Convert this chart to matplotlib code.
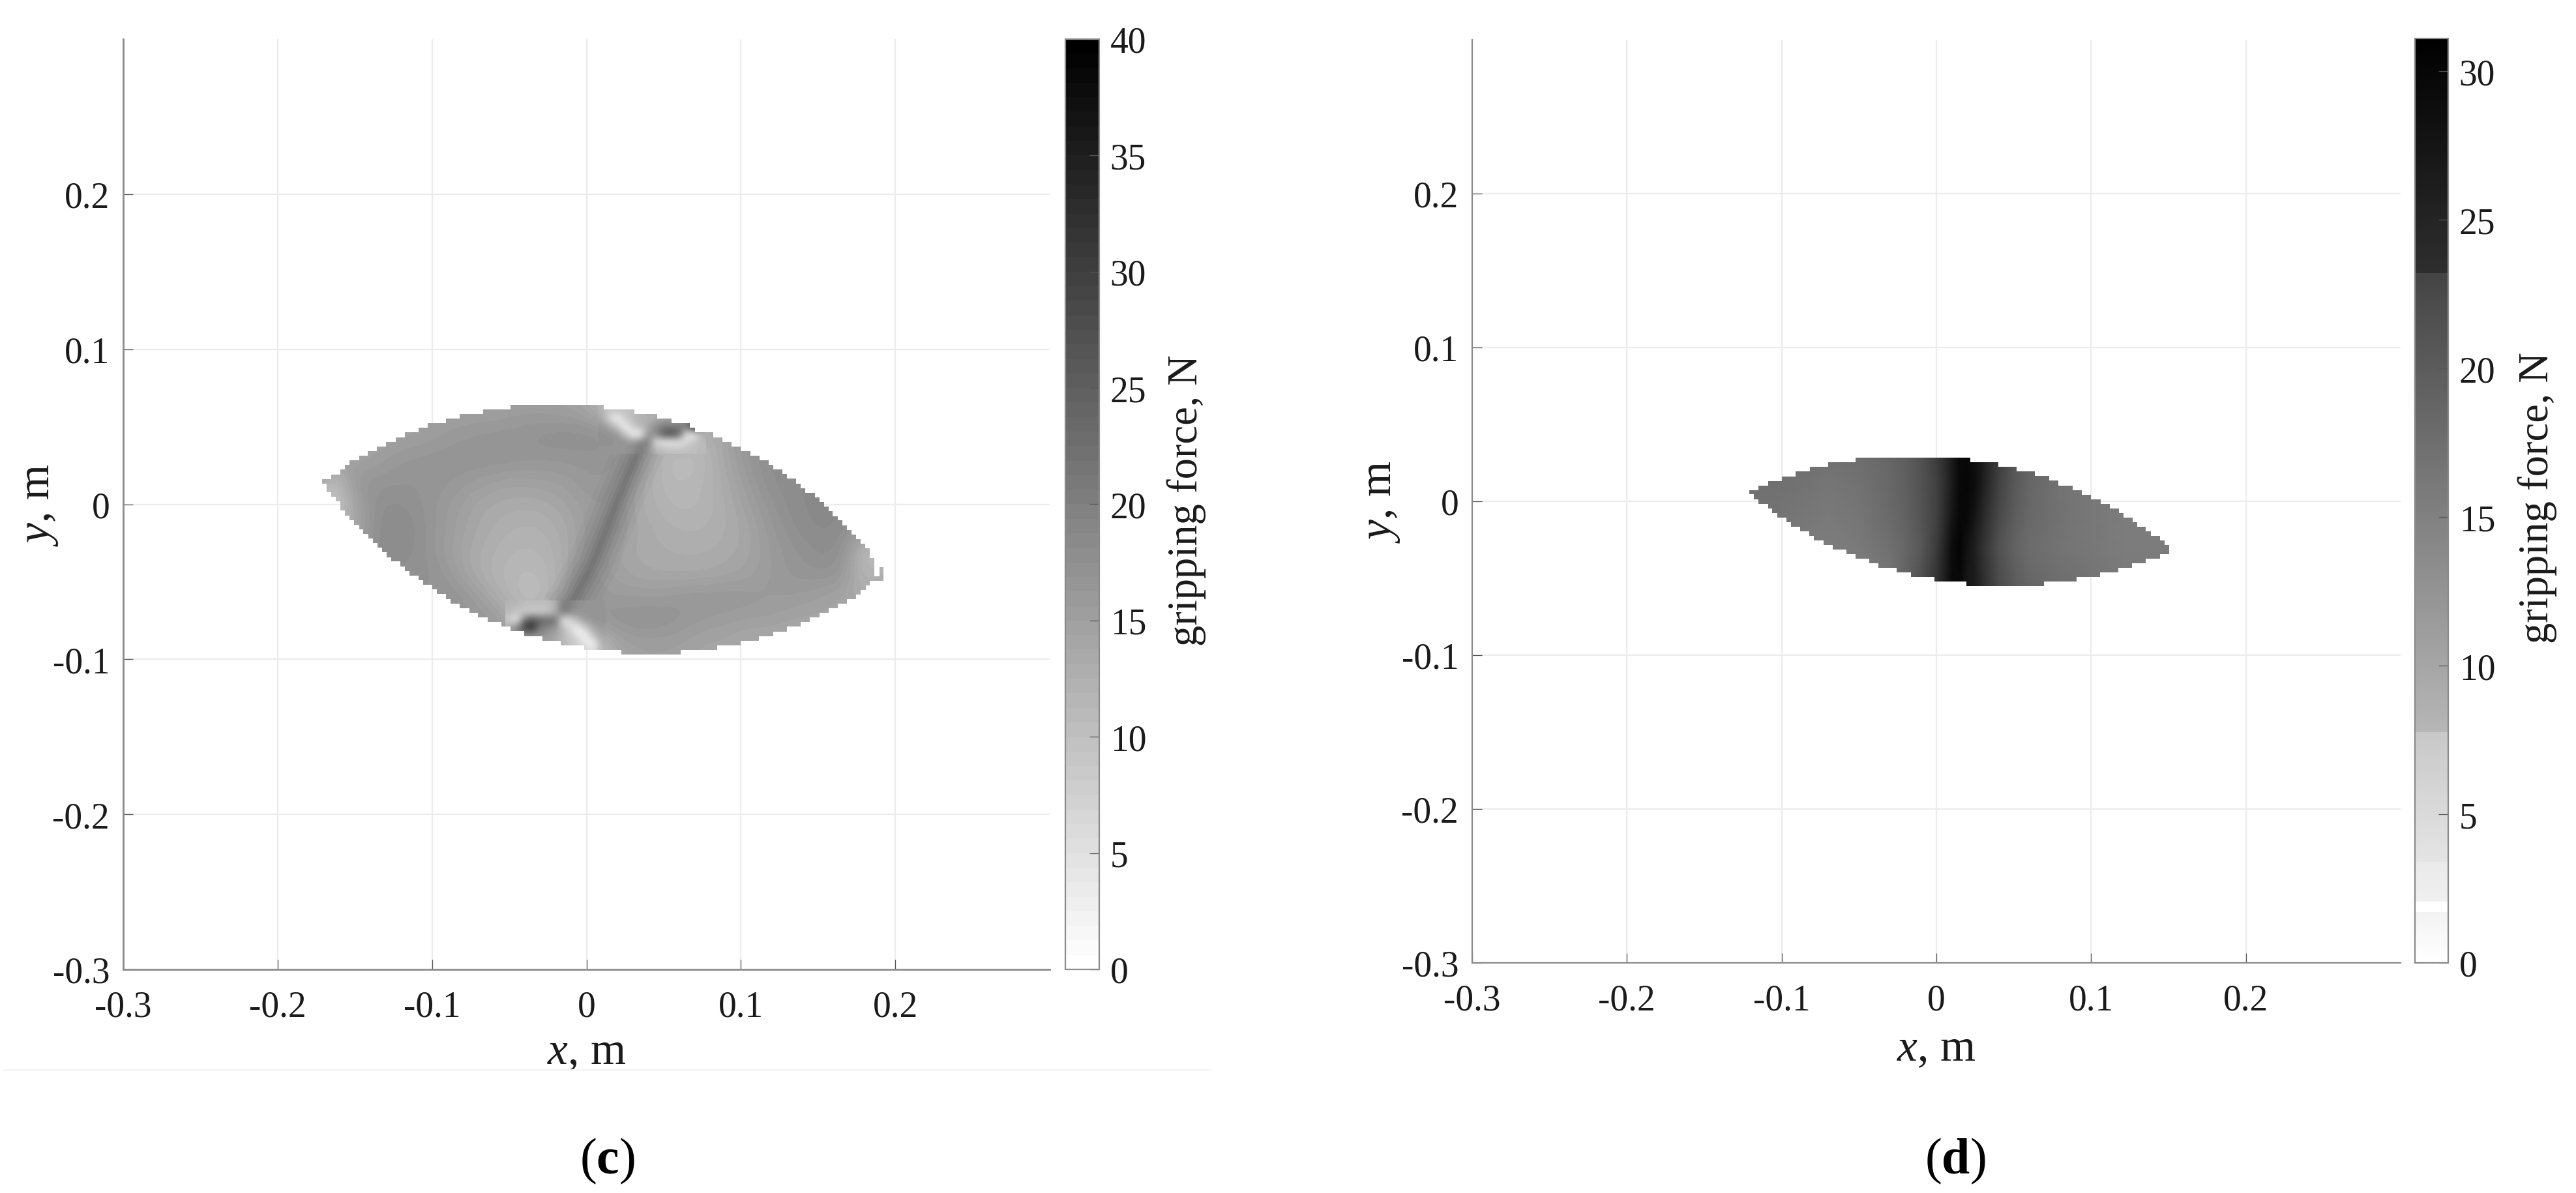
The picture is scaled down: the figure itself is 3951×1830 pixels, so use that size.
import numpy as np
import matplotlib
matplotlib.use("Agg")
import matplotlib.pyplot as plt
from matplotlib.colors import LinearSegmentedColormap, Normalize
from matplotlib.cm import ScalarMappable
from matplotlib.lines import Line2D
from matplotlib.path import Path

plt.rcParams['font.family'] = ['Liberation Serif']
plt.rcParams['mathtext.fontset'] = 'custom'
plt.rcParams['mathtext.rm'] = 'Liberation Serif'
plt.rcParams['mathtext.it'] = 'Liberation Serif:italic'
plt.rcParams['mathtext.bf'] = 'Liberation Serif:bold'

W, H = 3951, 1831

# ---------- data ----------
axis_ticks = [-0.3, -0.2, -0.1, 0, 0.1, 0.2]
axis_labels = ['-0.3', '-0.2', '-0.1', '0', '0.1', '0.2']
grid_ticks = [-0.2, -0.1, 0, 0.1, 0.2]

c_vmax = 40.0
c_bar_ticks = [0, 5, 10, 15, 20, 25, 30, 35, 40]
d_vmax = 31.1
d_bar_ticks = [0, 5, 10, 15, 20, 25, 30]

# outline of reachable area, panel (c): run edges and level of each run
c_top_edges = [-.1711, -.1652, -.1592, -.1564, -.1533, -.1473, -.1417, -.1356, -.1297, -.1237, -.1178, -.1087,
               -.1028, -.0912, -.0820, -.0670, -.0491, .0112, .0309, .0460, .0549, .0671, .0704, .0821, .0881,
               .0940, .0998, .1060, .1121, .1180, .1208, .1269, .1300, .1358, .1389, .1417, .1478, .1509, .1537,
               .1568, .1596, .1626, .1657, .1688, .1716, .1746, .1777, .1805, .1836, .1865, .1897, .1925]
c_top_y = [.0161, .0192, .0223, .0254, .0283, .0313, .0342, .0372, .0403, .0433, .0463, .0492, .0522, .0553,
           .0583, .0613, .0642, .0613, .0583, .0553, .0522, .0492, .0463, .0433, .0403, .0372, .0342, .0313,
           .0283, .0254, .0224, .0194, .0164, .0133, .0104, .0074, .0045, .0014, -.0015, -.0046, -.0076, -.0105,
           -.0136, -.0165, -.0195, -.0226, -.0255, -.0285, -.0345, -.0464, -.0404]
c_bot_edges = [-.1711, -.1683, -.1652, -.1624, -.1592, -.1564, -.1533, -.1504, -.1473, -.1445, -.1414, -.1384,
               -.1353, -.1325, -.1295, -.1265, -.1206, -.1178, -.1147, -.1087, -.1056, -.0999, -.0968, -.0912,
               -.0879, -.0820, -.0760, -.0701, -.0641, -.0551, -.0491, -.0403, -.0283, -.0165, -.0014, .0224,
               .0610, .0848, .0998, .1118, .1208, .1297, .1389, .1448, .1509, .1568, .1627, .1688, .1746, .1777,
               .1808, .1836, .1925]
c_bot_y = [.0132, .0077, .0048, .0017, -.0042, -.0072, -.0102, -.0132, -.0161, -.0191, -.0222, -.0251, -.0281,
           -.0310, -.0341, -.0370, -.0400, -.0431, -.0460, -.0489, -.0520, -.0550, -.0579, -.0610, -.0641, -.0670,
           -.0700, -.0731, -.0760, -.0790, -.0819, -.0850, -.0881, -.0910, -.0940, -.0969, -.0940, -.0910, -.0881,
           -.0850, -.0820, -.0790, -.0760, -.0731, -.0700, -.0670, -.0641, -.0610, -.0581, -.0551, -.0522, -.0495]

# gripping force (N), panel (c), read on a coarse grid
c_x = [-.18 + 0.015 * i for i in range(26)]
c_y = [.075, .06, .045, .03, .015, 0, -.015, -.03, -.045, -.06, -.075, -.09, -.105]
c_force = [
    [16.5, 16.5, 15.7, 14.9, 14.9, 14.9, 14.9, 14.9, 14.9, 15.2, 15.2, 14.9, 14.1, 11.0, 9.4, 10.2, 12.5, 13.3, 14.1, 14.9, 15.7, 16.5, 17.3, 17.3, 17.3, 17.3],
    [16.5, 16.5, 15.7, 14.9, 14.9, 14.9, 14.9, 14.9, 14.9, 15.2, 15.2, 14.9, 14.1, 11.0, 9.4, 10.2, 12.5, 13.3, 14.1, 14.9, 15.7, 16.5, 17.3, 17.3, 17.3, 17.3],
    [16.5, 16.5, 14.1, 14.1, 14.6, 14.9, 15.7, 16.2, 16.5, 16.8, 17.3, 17.7, 17.7, 17.3, 10.2, 12.5, 14.9, 12.5, 14.1, 16.5, 17.3, 18.0, 18.0, 18.0, 18.0, 18.0],
    [16.5, 16.5, 14.1, 15.2, 16.2, 16.5, 16.8, 17.1, 17.1, 16.8, 16.5, 16.5, 16.5, 16.8, 16.5, 12.1, 10.2, 11.0, 14.1, 16.5, 17.7, 18.0, 18.0, 18.0, 18.0, 18.0],
    [18.0, 9.4, 16.5, 16.5, 16.8, 16.8, 16.5, 15.7, 14.9, 14.6, 14.9, 15.2, 16.2, 16.2, 14.1, 12.1, 11.0, 11.8, 13.3, 15.7, 17.7, 18.0, 18.4, 18.4, 18.4, 18.4],
    [13.3, 7.0, 14.6, 17.6, 17.6, 16.8, 15.7, 14.4, 13.6, 13.3, 13.3, 14.1, 15.4, 15.7, 13.6, 12.4, 11.5, 11.8, 13.0, 14.9, 16.8, 18.0, 18.4, 18.4, 18.4, 18.4],
    [11.8, 11.8, 13.0, 18.0, 18.4, 17.1, 15.5, 14.1, 13.0, 12.4, 12.4, 13.3, 15.2, 16.2, 14.0, 13.0, 12.4, 12.4, 13.0, 14.1, 16.2, 17.6, 18.4, 18.0, 16.5, 16.5],
    [16.5, 16.5, 16.5, 17.7, 18.0, 17.1, 15.2, 13.6, 12.5, 11.8, 11.8, 13.0, 15.7, 14.9, 13.6, 13.3, 13.0, 13.0, 13.3, 14.1, 15.7, 16.8, 17.7, 17.7, 11.0, 8.6],
    [16.5, 16.5, 16.5, 17.3, 17.3, 17.3, 16.2, 13.6, 12.1, 11.1, 11.1, 13.0, 16.5, 14.9, 14.1, 13.6, 13.6, 13.6, 14.1, 14.6, 15.7, 16.5, 16.8, 16.8, 11.0, 14.1],
    [16.5, 16.5, 16.5, 16.5, 16.5, 16.5, 17.3, 16.2, 13.3, 11.0, 10.2, 14.1, 16.5, 15.7, 15.7, 15.7, 16.2, 16.5, 16.5, 16.2, 15.7, 15.7, 14.9, 14.1, 13.3, 13.3],
    [16.5, 16.5, 16.5, 16.5, 16.5, 16.5, 16.5, 16.5, 16.5, 13.3, 12.5, 16.5, 16.5, 16.8, 17.3, 17.3, 16.5, 15.7, 15.2, 14.9, 14.9, 14.1, 14.1, 14.1, 14.1, 14.1],
    [14.9, 14.9, 14.9, 14.9, 14.9, 14.9, 14.9, 14.9, 14.9, 14.9, 14.9, 11.0, 6.3, 13.3, 14.9, 14.9, 14.9, 14.1, 14.1, 13.3, 13.3, 13.3, 13.3, 13.3, 13.3, 13.3],
    [14.9, 14.9, 14.9, 14.9, 14.9, 14.9, 14.9, 14.9, 14.9, 14.9, 14.9, 11.0, 6.3, 13.3, 14.9, 14.9, 14.9, 14.1, 14.1, 13.3, 13.3, 13.3, 13.3, 13.3, 13.3, 13.3],
]

# finer reading around the upper singular zone, panel (c)
c_upper_x = [.01 + .005 * i for i in range(14)]
c_upper_y = [.065, .06, .055, .05, .045, .04, .035]
c_upper_force = [
    [12.5, 8.6, 10.2, 9.4, 10.2, 12.5, 13.3, 13.3, 13.3, 13.3, 13.3, 13.3, 13.3, 13.3],
    [12.5, 8.6, 10.2, 9.4, 10.2, 12.5, 13.3, 13.3, 13.3, 13.3, 13.3, 13.3, 13.3, 13.3],
    [14.1, 6.3, 0.8, 8.6, 11.0, 11.8, 12.1, 12.5, 14.1, 14.1, 14.9, 16.5, 16.5, 16.5],
    [16.5, 14.1, 9.4, 0.8, 8.6, 11.8, 13.3, 18.0, 20.4, 20.4, 20.4, 22.0, 40.0, 16.5],
    [17.3, 16.8, 16.5, 10.2, 0.8, 1.6, 16.5, 18.0, 26.7, 29.0, 25.1, 3.1, 2.4, 13.3],
    [17.3, 17.3, 16.8, 17.3, 16.5, 19.6, 21.2, 4.7, 3.1, 2.4, 3.1, 6.3, 10.2, 11.0],
    [16.5, 16.5, 16.5, 16.5, 18.0, 21.2, 16.5, 12.1, 11.0, 10.2, 10.2, 10.2, 10.5, 11.0],
]

# finer reading around the lower singular zone, panel (c)
c_lower_x = [-.05 + .005 * i for i in range(13)]
c_lower_y = [-.065, -.07, -.075, -.08, -.085, -.09, -.095, -.1]
c_lower_force = [
    [12.1, 11.5, 10.8, 10.5, 10.5, 10.5, 12.5, 20.4, 19.6, 17.3, 16.8, 16.8, 16.8],
    [11.0, 9.4, 7.8, 7.8, 7.8, 8.6, 11.8, 22.7, 18.0, 16.5, 16.5, 16.8, 16.8],
    [8.6, 2.4, 22.7, 28.2, 24.3, 24.3, 23.5, 2.4, 6.3, 13.3, 15.7, 16.5, 16.8],
    [14.1, 19.6, 30.6, 32.2, 21.2, 18.0, 16.5, 11.0, 4.7, 1.6, 9.4, 14.1, 15.7],
    [16.5, 16.5, 17.3, 17.3, 16.5, 15.7, 14.1, 11.0, 8.6, 3.9, 1.6, 11.0, 14.1],
    [14.9, 14.9, 14.9, 14.9, 14.9, 14.9, 13.3, 11.0, 9.4, 7.8, 3.1, 1.6, 13.3],
    [14.9, 14.9, 14.9, 14.9, 14.9, 14.1, 13.3, 11.8, 10.2, 8.6, 7.1, 5.5, 11.8],
    [14.9, 14.9, 14.9, 14.9, 14.9, 14.1, 13.3, 11.8, 10.2, 8.6, 7.1, 5.5, 11.8],
]

# dark ridge between the two lobes, panel (c)
ridge_x = [.0351, .0295, .0196, .0041, -.0086, -.0143]
ridge_y = [.0374, .0248, .0010, -.0383, -.0614, -.0691]
ridge_force = 25.9

# outline, panel (d)
d_top_edges = [-.1211, -.1151, -.1089, -.1000, -.0910, -.0819, -.0699, -.0522, .0220, .0399, .0518, .0638, .0729,
               .0789, .0879, .0940, .1000, .1060, .1121, .1181, .1211, .1267, .1298, .1354, .1388, .1444, .1475, .1505]
d_top_y = [.0073, .0103, .0133, .0162, .0194, .0223, .0253, .0282, .0253, .0223, .0194, .0164, .0134, .0103, .0073,
           .0044, .0014, -.0016, -.0045, -.0075, -.0105, -.0134, -.0164, -.0194, -.0223, -.0253, -.0282]
d_bot_edges = [-.1211, -.1181, -.1151, -.1089, -.1060, -.1028, -.0970, -.0940, -.0881, -.0821, -.0791, -.0731,
               -.0670, -.0582, -.0522, -.0433, -.0373, -.0256, -.0164, -.0013, .0192, .0697, .0908, .1058, .1177,
               .1266, .1354, .1444, .1505]
d_bot_y = [.0045, .0014, -.0016, -.0045, -.0075, -.0106, -.0136, -.0165, -.0195, -.0225, -.0254, -.0284, -.0314,
           -.0343, -.0373, -.0403, -.0432, -.0462, -.0492, -.0521, -.0551, -.0521, -.0492, -.0462, -.0432, -.0403,
           -.0373, -.0343]

# gripping force (N), panel (d)
d_x = [-.13, -.11, -.09, -.07, -.05, -.03, -.02, -.01, 0, .005, .01, .015, .02, .025, .03, .04, .05, .06, .08, .10, .12, .14, .16]
d_y = [.03, .01, -.01, -.03, -.055]
d_force = [
    [17.4, 17.4, 17.4, 17.4, 17.7, 18.7, 19.5, 21.1, 23.8, 25.6, 27.7, 29.9, 30.1, 29.3, 27.7, 23.8, 20.7, 18.9, 17.1, 16.7, 16.5, 16.5, 16.5],
    [17.4, 17.4, 17.2, 16.7, 17.2, 18.4, 19.4, 20.9, 23.2, 25.2, 27.7, 29.9, 30.2, 29.4, 27.4, 23.2, 20.4, 18.7, 17.1, 16.5, 16.2, 16.2, 16.2],
    [17.1, 17.1, 16.7, 16.2, 16.7, 18.2, 19.1, 20.7, 23.2, 25.6, 28.4, 30.1, 29.9, 28.4, 26.2, 22.3, 19.9, 18.4, 17.2, 16.5, 16.0, 16.0, 16.0],
    [16.7, 16.7, 16.2, 15.8, 16.2, 17.4, 18.7, 20.4, 23.8, 26.5, 29.4, 30.5, 28.9, 27.2, 25.0, 21.3, 19.1, 17.9, 16.9, 16.5, 16.0, 16.0, 16.0],
    [15.8, 15.8, 15.8, 15.8, 15.5, 16.7, 18.9, 21.6, 25.0, 27.4, 29.9, 30.1, 28.1, 27.7, 25.6, 22.0, 20.1, 18.7, 17.7, 17.1, 16.5, 16.5, 16.5],
]

# colour bar of panel (d): force level and grey level of its stops
d_bar_force = [0, 1.6, 1.67, 1.95, 1.97, 3.38, 3.4, 7.75, 7.77, 23.25, 23.27, 31.1]
d_bar_grey = [255, 243, 255, 255, 240, 234, 228, 200, 182, 68, 46, 0]

SPINE = '#8a8a8a'
TICK = '#555555'
GRID = '#ececec'
TXT = '#1a1a1a'
TICK_SIZE = 40
LABEL_SIZE = 50
BAR_LABEL_SIZE = 46.5


def pos(l, t, r, b):
    return [l / W, 1 - b / H, (r - l) / W, (b - t) / H]


def outline(top_e, top_y, bot_e, bot_y):
    pts = []
    for i, y in enumerate(top_y):
        pts += [(top_e[i], y), (top_e[i + 1], y)]
    for i in range(len(bot_y) - 1, -1, -1):
        pts += [(bot_e[i + 1], bot_y[i]), (bot_e[i], bot_y[i])]
    pts.append(pts[0])
    return Path(pts)


def style_axes(ax, spine_w):
    ax.set_xlim(-0.3, 0.3)
    ax.set_ylim(-0.3, 0.3)
    ax.set_xticks(axis_ticks, axis_labels, fontsize=TICK_SIZE, color=TXT)
    ax.set_yticks(axis_ticks, axis_labels, fontsize=TICK_SIZE, color=TXT)
    ax.tick_params(direction='in', length=11, width=0.9, color=TICK, top=False, right=False)
    ax.tick_params(axis='x', pad=23)
    ax.tick_params(axis='y', pad=15)
    for s in ('top', 'right'):
        ax.spines[s].set_visible(False)
    for s in ('left', 'bottom'):
        ax.spines[s].set_color(SPINE)
        ax.spines[s].set_linewidth(spine_w)
    for v in grid_ticks:
        ax.axvline(v, color=GRID, lw=1.6, zorder=0.5)
        ax.axhline(v, color=GRID, lw=1.6, zorder=0.5)
    ax.set_xlabel(r'$\mathit{x}$, m', fontsize=LABEL_SIZE, color=TXT, va='center')
    ax.set_ylabel(r'$\mathit{y}$, m', fontsize=LABEL_SIZE, color=TXT, va='center')


def bar(fig, rect, mappable, ticks, label_xy):
    cax = fig.add_axes(rect)
    cb = fig.colorbar(mappable, cax=cax)
    cb.set_ticks(ticks)
    cb.ax.tick_params(direction='in', length=11, width=0.9, color=TICK, pad=12,
                      labelsize=TICK_SIZE, labelcolor=TXT)
    cb.outline.set_edgecolor(SPINE)
    cb.outline.set_linewidth(1.6)
    fig.text(label_xy[0] / W, 1 - label_xy[1] / H, 'gripping force, N', rotation=90,
             ha='center', va='center', fontsize=BAR_LABEL_SIZE, color=TXT)
    return cb


fig = plt.figure(figsize=(W / 100, H / 100), dpi=100, facecolor='white')

# ---------- panel (c) ----------
ax_c = fig.add_axes(pos(189, 61, 1610, 1488))
style_axes(ax_c, 2.0)
ax_c.xaxis.set_label_coords(0.5, (1488 - 1615) / (1488 - 61))
ax_c.yaxis.set_label_coords((60 - 189) / (1610 - 189), 0.5)

cmap_c = plt.get_cmap('gray_r', 64)
norm_c = Normalize(0, c_vmax)
clip_c = outline(c_top_edges, c_top_y, c_bot_edges, c_bot_y)


def table(ax, xs, ys, vals, z):
    dx = abs(xs[1] - xs[0]) / 2
    dy = abs(ys[1] - ys[0]) / 2
    im = ax.imshow(vals, extent=[xs[0] - dx, xs[-1] + dx, ys[-1] - dy, ys[0] + dy], origin='upper',
                   cmap=cmap_c, norm=norm_c, interpolation='bicubic', aspect='auto', zorder=z)
    im.set_clip_path(clip_c, ax.transData)
    return im


table(ax_c, c_x, c_y, c_force, 1)
ridge_col = cmap_c(norm_c(ridge_force))
for w, a in ((76, .06), (60, .08), (44, .10), (30, .13), (18, .16), (8, .18)):
    ln, = ax_c.plot(ridge_x, ridge_y, color=ridge_col, lw=w / 1.389, alpha=a, solid_capstyle='butt', zorder=1.1)
    ln.set_clip_path(clip_c, ax_c.transData)
table(ax_c, c_upper_x, c_upper_y, c_upper_force, 1.2)
table(ax_c, c_lower_x, c_lower_y, c_lower_force, 1.2)
ax_c.set_xlim(-0.3, 0.3)
ax_c.set_ylim(-0.3, 0.3)
bar(fig, pos(1634, 61, 1686, 1488), ScalarMappable(norm_c, cmap_c), c_bar_ticks, (1820, 768))

# ---------- panel (d) ----------
ax_d = fig.add_axes(pos(2258, 62, 3682, 1478))
style_axes(ax_d, 1.6)
ax_d.xaxis.set_label_coords(0.5, (1478 - 1610) / (1478 - 62))
ax_d.yaxis.set_label_coords((2118 - 2258) / (3682 - 2258), 0.5)

cmap_d = LinearSegmentedColormap.from_list(
    'bar_d', [(f / d_vmax, (g / 255, g / 255, g / 255)) for f, g in zip(d_bar_force, d_bar_grey)], N=256)
norm_d = Normalize(0, d_vmax)
mesh = ax_d.pcolormesh(d_x, d_y, d_force, cmap='gray_r', norm=norm_d, shading='gouraud', zorder=1)
mesh.set_clip_path(outline(d_top_edges, d_top_y, d_bot_edges, d_bot_y), ax_d.transData)
ax_d.set_xlim(-0.3, 0.3)
ax_d.set_ylim(-0.3, 0.3)
bar(fig, pos(3704, 60, 3755, 1478), ScalarMappable(norm_d, cmap_d), d_bar_ticks, (3892, 764))

# ---------- panel letters and the faint rule under (c) ----------
fig.text(931 / W, 1 - 1781 / H, r'($\mathbf{c}$)', ha='center', va='center', fontsize=56, color='black')
fig.text(2999 / W, 1 - 1781 / H, r'($\mathbf{d}$)', ha='center', va='center', fontsize=56, color='black')
fig.add_artist(Line2D([6 / W, 1856 / W], [1 - 1642 / H] * 2, color='#f6f6f6', lw=2))

fig.savefig('out.png', dpi=100, facecolor='white')
